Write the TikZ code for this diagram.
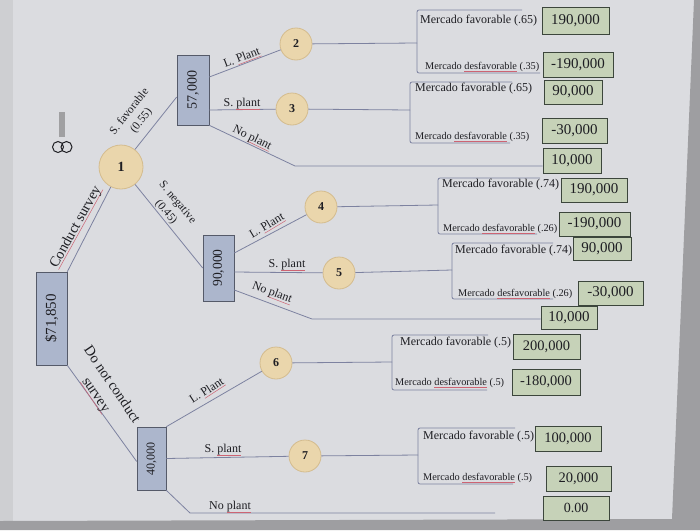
\documentclass[tikz,border=0pt]{standalone}
\usepackage{fontspec}
\setmainfont{Liberation Serif}
\usepackage{graphicx}
\usetikzlibrary{calc}

\definecolor{paper}{RGB}{219,220,224}
\definecolor{paperleft}{RGB}{206,207,210}
\definecolor{edgegray}{RGB}{158,158,161}
\definecolor{linec}{RGB}{125,130,160}
\definecolor{circfill}{RGB}{234,214,172}
\definecolor{circdraw}{RGB}{212,188,142}
\definecolor{boxfill}{RGB}{172,182,204}
\definecolor{boxdraw}{RGB}{85,90,105}
\definecolor{valfill}{RGB}{198,210,184}
\definecolor{valdraw}{RGB}{60,70,60}
\definecolor{inkc}{RGB}{30,30,35}
\definecolor{squig}{RGB}{205,100,115}
\definecolor{pinbar}{RGB}{160,160,162}

\newcommand\fs[2]{\fontsize{#1}{#2}\selectfont}
\newsavebox\sqbox
\newcommand\sqg[1]{\sbox\sqbox{#1}\rlap{\color{squig}\rule[-2.2pt]{\wd\sqbox}{0.5pt}}\usebox\sqbox}

\tikzset{
  link/.style={draw=linec, line width=0.8pt},
  chance/.style={circle, fill=circfill, draw=circdraw, line width=0.8pt,
    minimum size=32pt, inner sep=0pt, font=\bfseries\fs{12}{12}, text=inkc},
  dbox/.style={rectangle, fill=boxfill, draw=boxdraw, line width=0.6pt,
    inner sep=0pt, text=inkc},
  vbox/.style={rectangle, fill=valfill, draw=valdraw, line width=0.6pt,
    inner sep=0pt, minimum height=25pt, font=\fs{15}{15}, text=inkc},
  fav/.style={anchor=west, inner sep=0pt, font=\fs{12}{12}, text=inkc},
  unfav/.style={anchor=west, inner sep=0pt, font=\fs{10.3}{10.3}, text=inkc},
  elab/.style={inner sep=0pt, font=\fs{12}{14}, text=inkc},
  biglab/.style={inner sep=0pt, font=\fs{14.5}{19}, text=inkc},
  brk/.style={link, rounded corners=2pt}
}

\begin{document}
\begin{tikzpicture}[x=1pt,y=-1pt]
\useasboundingbox (0,0) rectangle (700,530);
% paper and photo edges
\fill[paper] (0,0) rectangle (700,530);
\fill[paperleft] (0,0) rectangle (13,521);
\fill[edgegray] (0,521) -- (672,519) -- (694,0) -- (700,0) -- (700,530) -- (0,530) -- cycle;

% small icon at left
\fill[pinbar] (59,112) rectangle (65,137);
\draw[inkc, line width=1pt] (58,147) circle (5.5);
\draw[inkc, line width=1pt] (66.5,147) circle (5.5);

% decision boxes
\node[dbox, minimum width=31pt, minimum height=93pt] (root) at (51.5,318.5)
  {\rotatebox{90}{\fs{15}{15}\$71,850}};
\node[dbox, minimum width=32pt, minimum height=70pt] (b57) at (193,90)
  {\rotatebox{90}{\fs{14}{14}57,000}};
\node[dbox, minimum width=31pt, minimum height=66pt] (b90) at (218.5,268)
  {\rotatebox{90}{\fs{13.5}{13.5}90,000}};
\node[dbox, minimum width=29pt, minimum height=63pt] (b40) at (151.5,458.5)
  {\rotatebox{90}{\fs{12}{12}40,000}};

% chance nodes
\node[chance, minimum size=44pt, font=\bfseries\fs{14}{14}] (c1) at (121,167) {1};
\node[chance] (c2) at (296,44) {2};
\node[chance] (c3) at (292,109) {3};
\node[chance] (c4) at (321,207) {4};
\node[chance] (c5) at (339,273) {5};
\node[chance] (c6) at (276,363) {6};
\node[chance] (c7) at (305,456) {7};

% value boxes
\node[vbox, minimum width=67pt, minimum height=27pt] (v1) at (575.5,20.5) {190,000};
\node[vbox, minimum width=70pt] (v2) at (578,64.5) {-190,000};
\node[vbox, minimum width=58pt, minimum height=24pt] (v3) at (573,92) {90,000};
\node[vbox, minimum width=65pt] (v4) at (574.5,130.5) {-30,000};
\node[vbox, minimum width=58pt] (v10a) at (572,160.5) {10,000};
\node[vbox, minimum width=66pt, minimum height=24pt] (v5) at (594,190) {190,000};
\node[vbox, minimum width=71pt, minimum height=24pt] (v6) at (594.5,224) {-190,000};
\node[vbox, minimum width=58pt, minimum height=23pt] (v7) at (602,248.5) {90,000};
\node[vbox, minimum width=65pt, minimum height=24pt] (v8) at (610.5,293) {-30,000};
\node[vbox, minimum width=56pt, minimum height=23pt] (v10b) at (569,317.5) {10,000};
\node[vbox, minimum width=67pt, font=\fs{14.5}{14.5}] (v9) at (546.5,346.5) {200,000};
\node[vbox, minimum width=68pt, minimum height=26pt, font=\fs{14.5}{14.5}] (v11) at (546,382) {-180,000};
\node[vbox, minimum width=66pt, font=\fs{14.5}{14.5}] (v12) at (568,438.5) {100,000};
\node[vbox, minimum width=65pt, font=\fs{14.5}{14.5}] (v13) at (578.5,478.5) {20,000};
\node[vbox, minimum width=66pt, minimum height=24pt, font=\fs{14}{14}] (v14) at (576,508) {0.00};

% main connectors
\draw[link] (root.north east) -- (c1);
\draw[link] (root.south east) -- ([yshift=-3pt]b40.west);
\draw[link] (c1) -- ([yshift=-7pt]b57.west);
\draw[link] (c1) -- (b90.west);

\coordinate (np1) at (295,166);
\coordinate (np2) at (312,319);
\coordinate (np3) at (190,513);
\coordinate (npend) at (495,513);

\draw[link] ([yshift=13pt]b57.east) -- (c2);
\draw[link] ([yshift=-20pt]b57.east) -- (c3);
\draw[link] (b57.south east) -- (np1) -- (np1 -| v10a.west);
\draw[link] ([yshift=15pt]b90.east) -- (c4);
\draw[link] ([yshift=-4pt]b90.east) -- (c5);
\draw[link] ([yshift=-22pt]b90.east) -- (np2) -- (np2 -| v10b.west);
\draw[link] (b40.north east) -- (c6);
\draw[link] (b40.east) -- (c7);
\draw[link] (b40.south east) -- (np3) -- (npend);

% brackets
\coordinate (j2) at (417,43);  \coordinate (t2) at (522,10);  \coordinate (u2) at (540,73);
\coordinate (j3) at (410,110); \coordinate (t3) at (512,82);  \coordinate (u3) at (510,143);
\coordinate (j4) at (438,205); \coordinate (t4) at (540,178); \coordinate (u4) at (537,234);
\coordinate (j5) at (452,270); \coordinate (t5) at (553,243); \coordinate (u5) at (553,299);
\coordinate (j6) at (392,362); \coordinate (t6) at (488,335); \coordinate (u6) at (487,390);
\coordinate (j7) at (418,455); \coordinate (t7) at (515,428); \coordinate (u7) at (513,484);

\foreach \k in {2,...,7}{
  \draw[link] (c\k) -- (j\k);
  \draw[brk] (j\k) |- (t\k);
  \draw[brk] (j\k) |- (u\k);
}

% outcome labels
\node[fav]   (f2) at (420,21)  {Mercado favorable (.65)};
\node[unfav] (d2) at (425,67)  {Mercado \sqg{desfavorable} (.35)};
\node[fav]   (f3) at (415,89)  {Mercado favorable (.65)};
\node[unfav] (d3) at (415,137) {Mercado \sqg{desfavorable} (.35)};
\node[fav]   (f4) at (442,185) {Mercado favorable (.74)};
\node[unfav] (d4) at (443,229) {Mercado \sqg{desfavorable} (.26)};
\node[fav]   (f5) at (455,251) {Mercado favorable (.74)};
\node[unfav] (d5) at (458,294) {Mercado \sqg{desfavorable} (.26)};
\node[fav]   (f6) at (400,343) {Mercado favorable (.5)};
\node[unfav] (d6) at (395,383) {Mercado \sqg{desfavorable} (.5)};
\node[fav]   (f7) at (423,437) {Mercado favorable (.5)};
\node[unfav] (d7) at (423,478) {Mercado \sqg{desfavorable} (.5)};

% branch labels
\node[elab, rotate=21]  (l1) at (242,58)  {L. \sqg{Plant}};
\node[elab]             (l2) at (242,104) {S. \sqg{plant}};
\node[elab, rotate=-26] (l3) at (252,138) {No \sqg{plant}};
\node[elab, rotate=31]  (l4) at (267,226) {L. \sqg{Plant}};
\node[elab]             (l5) at (287,265) {S. \sqg{plant}};
\node[elab, rotate=-21] (l6) at (272,293) {No \sqg{plant}};
\node[elab, rotate=33]  (l7) at (207,391) {L. \sqg{Plant}};
\node[elab]             (l8) at (223,450) {S. \sqg{plant}};
\node[elab]             (l9) at (230,507) {No \sqg{plant}};

\node[elab, rotate=52, align=center, font=\fs{11.5}{15}] (sf) at (135.5,116.5) {S. favorable\\(0.55)};
\node[elab, rotate=-50, align=center, font=\fs{11.5}{15}] (sn) at (171.5,207.5) {S. negative\\(0.45)};
\node[biglab, rotate=61] (cs) at (76,227) {\sqg{Conduct survey}};
\node[biglab, rotate=-56, align=center] (dn) at (103.5,390) {Do not conduct\\\sqg{survey}};
\end{tikzpicture}
\end{document}
